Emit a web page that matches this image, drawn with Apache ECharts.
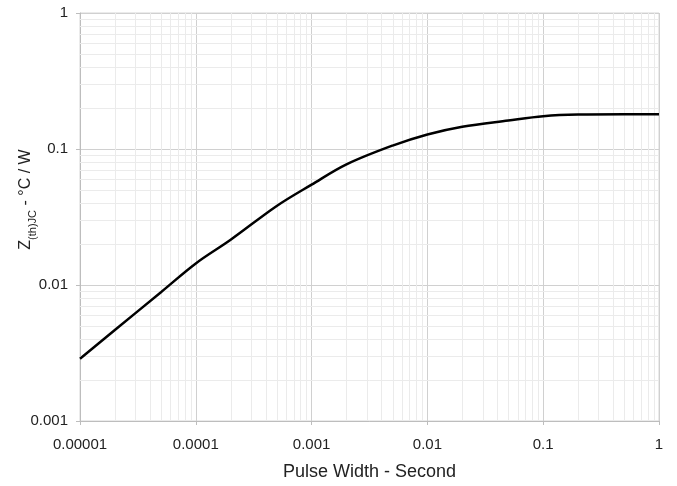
<!DOCTYPE html>
<html>
<head>
<meta charset="utf-8">
<script src="https://cdn.jsdelivr.net/npm/echarts@6/dist/echarts.min.js"></script>
<style>
html,body{margin:0;padding:0;background:#fff;}
#chart{width:677px;height:486px;}
</style>
</head>
<body>
<div id="chart"></div>
<script>
// Data
const pulseWidth = [0.00001, 0.00002, 0.00005, 0.0001, 0.0002, 0.0005, 0.001, 0.002, 0.005, 0.01, 0.02, 0.05, 0.1, 0.2, 0.5, 1];
const zthJC = [0.00287, 0.00467, 0.00885, 0.0144, 0.0215, 0.0381, 0.0547, 0.0771, 0.106, 0.128, 0.146, 0.162, 0.174, 0.179, 0.18, 0.18];
const xTickLabels = ['0.00001', '0.0001', '0.001', '0.01', '0.1', '1'];
const yTickLabels = ['0.001', '0.01', '0.1', '1'];
const xMin = 0.00001, xMax = 1, yMin = 0.001, yMax = 1;

// minor grid values (2..9 within each decade)
const xMinor = [];
for (let k = -5; k < 0; k++) for (let m = 2; m <= 9; m++) xMinor.push(m * Math.pow(10, k));
const yMinor = [];
for (let k = -3; k < 0; k++) for (let m = 2; m <= 9; m++) yMinor.push(m * Math.pow(10, k));
const minorData = xMinor.map(v => [v, yMin, 0]).concat(yMinor.map(v => [xMin, v, 1]));

const font = 'Liberation Sans, Arial, sans-serif';
const chart = echarts.init(document.getElementById('chart'), null, {renderer: 'canvas'});
chart.setOption({
  animation: false,
  backgroundColor: '#fff',
  grid: {left: 80, right: 18, top: 13, bottom: 65, outerBoundsMode: 'none', containLabel: false,
         show: true, borderColor: '#d6d6d6', borderWidth: 1, backgroundColor: 'transparent'},
  xAxis: {
    type: 'log', logBase: 10, min: xMin, max: xMax,
    name: 'Pulse Width - Second', nameLocation: 'middle', nameGap: 42, nameMoveOverlap: false,
    nameTextStyle: {fontFamily: font, fontSize: 18, color: '#222'},
    axisLine: {show: true, lineStyle: {color: '#bdbdbd', width: 1}},
    axisTick: {show: true, length: 4, lineStyle: {color: '#bdbdbd'}},
    axisLabel: {
      fontFamily: font, fontSize: 15, color: '#222', margin: 16,
      formatter: v => xTickLabels[Math.round(Math.log10(v) + 5)]
    },
    splitLine: {show: true, lineStyle: {color: '#d0d0d0', width: 1}}
  },
  yAxis: {
    type: 'log', logBase: 10, min: yMin, max: yMax,
    name: '{n|Z}{s|(th)JC}{n| - °C / W}', nameLocation: 'middle', nameGap: 42, nameRotate: 90,
    nameMoveOverlap: false,
    nameTextStyle: {
      fontFamily: font, color: '#222', padding: [0, 0, 0, 35],
      rich: {
        n: {fontFamily: font, fontSize: 16, color: '#222', verticalAlign: 'bottom', padding: [0, 0, 4, 0]},
        s: {fontFamily: font, fontSize: 11, color: '#222', verticalAlign: 'bottom'}
      }
    },
    axisLine: {show: true, lineStyle: {color: '#bdbdbd', width: 1}},
    axisTick: {show: true, length: 4, lineStyle: {color: '#bdbdbd'}},
    axisLabel: {
      fontFamily: font, fontSize: 15, color: '#222', margin: 12,
      formatter: v => yTickLabels[Math.round(Math.log10(v) + 3)]
    },
    splitLine: {show: true, lineStyle: {color: '#d0d0d0', width: 1}}
  },
  series: [
    {
      type: 'custom', silent: true, z: 1, clip: false,
      data: minorData,
      renderItem: function (params, api) {
        const v0 = api.value(0), v1 = api.value(1), kind = api.value(2);
        let p1, p2;
        if (kind === 0) {
          p1 = api.coord([v0, yMin]); p2 = api.coord([v0, yMax]);
          const x = Math.round(p1[0]) + 0.5;
          p1[0] = x; p2[0] = x;
        } else {
          p1 = api.coord([xMin, v1]); p2 = api.coord([xMax, v1]);
          const y = Math.round(p1[1]) + 0.5;
          p1[1] = y; p2[1] = y;
        }
        return {
          type: 'line',
          shape: {x1: p1[0], y1: p1[1], x2: p2[0], y2: p2[1]},
          style: {stroke: '#ebebeb', lineWidth: 1}
        };
      }
    },
    {
      type: 'line', z: 5,
      data: pulseWidth.map((x, i) => [x, zthJC[i]]),
      symbol: 'none', smooth: 0.35,
      lineStyle: {color: '#000', width: 2.5}
    }
  ]
});
</script>
</body>
</html>
